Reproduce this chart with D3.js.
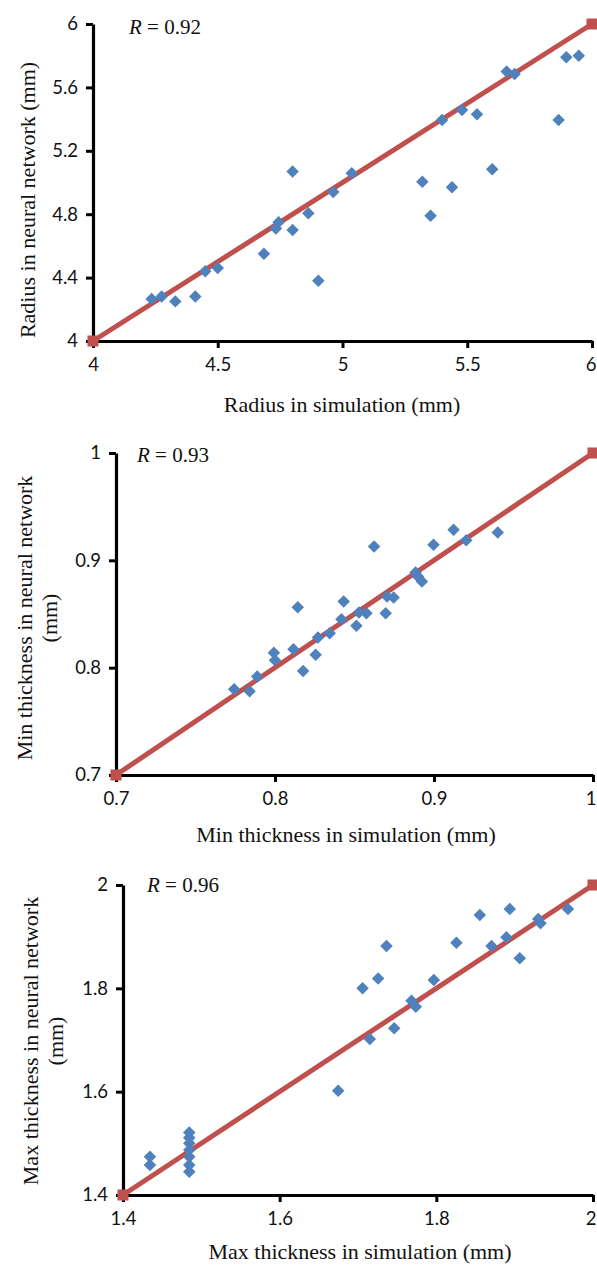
<!DOCTYPE html>
<html><head><meta charset="utf-8">
<script src="https://cdn.jsdelivr.net/npm/d3@7"></script>
<style>
html,body{margin:0;padding:0;background:#fff;}
svg{display:block;}
</style></head>
<body>
<svg id="c" width="597" height="1266"></svg>
<script>
// ---- Data ----
const radiusSim = [4.235,4.275,4.33,4.41,4.45,4.5,4.685,4.733,4.744,4.80,4.80,4.863,4.903,4.963,5.037,5.32,5.353,5.439,5.399,5.479,5.539,5.60,5.658,5.69,5.866,5.897,5.947];
const radiusNN  = [4.265,4.28,4.25,4.28,4.44,4.46,4.55,4.71,4.75,5.07,4.70,4.806,4.38,4.94,5.058,5.005,4.79,4.97,5.394,5.457,5.43,5.083,5.70,5.685,5.394,5.79,5.80];
const radiusXTicks = [4,4.5,5,5.5,6];
const radiusYTicks = [4,4.4,4.8,5.2,5.6,6];
const radiusR = "0.92";

const minSim = [0.7743,0.784,0.7888,0.7993,0.800,0.8116,0.8143,0.8177,0.8256,0.827,0.8344,0.8418,0.8432,0.8512,0.8528,0.8575,0.8623,0.8696,0.8705,0.8746,0.8884,0.8899,0.8924,0.8997,0.9123,0.9203,0.9401];
const minNN  = [0.780,0.778,0.7917,0.814,0.807,0.8172,0.8564,0.797,0.812,0.828,0.832,0.845,0.8617,0.839,0.8514,0.8508,0.913,0.8508,0.8663,0.8654,0.8887,0.885,0.8803,0.9145,0.9285,0.9186,0.926];
const minXTicks = [0.7,0.8,0.9,1];
const minYTicks = [0.7,0.8,0.9,1];
const minR = "0.93";

const maxSim = [1.4344,1.4344,1.4846,1.4846,1.4846,1.4846,1.4846,1.4846,1.4846,1.6747,1.7058,1.7151,1.7257,1.7364,1.7462,1.7683,1.7738,1.7968,1.8257,1.8555,1.8704,1.8895,1.8938,1.9065,1.930,1.933,1.968];
const maxNN  = [1.474,1.458,1.521,1.511,1.500,1.487,1.474,1.458,1.445,1.602,1.800,1.702,1.819,1.882,1.7226,1.776,1.7645,1.816,1.888,1.942,1.882,1.8987,1.9535,1.858,1.934,1.926,1.9535];
const maxXTicks = [1.4,1.6,1.8,2];
const maxYTicks = [1.4,1.6,1.8,2];
const maxR = "0.96";

// ---- Drawing ----
const svg = d3.select("#c");
const BLUE = "#4f81bd", RED = "#c0504d";
const SERIF = "'Liberation Serif','Times New Roman',serif";
const W = 597;

function panel(cfg){
  const g = svg.append("g");
  const x = d3.scaleLinear().domain(cfg.xDom).range(cfg.xr);
  const y = d3.scaleLinear().domain(cfg.yDom).range(cfg.yr);

  const ax = g.append("g").attr("transform",`translate(0,${cfg.yr[0]})`)
    .call(d3.axisBottom(x).tickValues(cfg.xTicks).tickFormat(d=>String(d)).tickSize(7).tickSizeOuter(0).tickPadding(10));
  const ay = g.append("g").attr("transform",`translate(${cfg.xr[0]},0)`)
    .call(d3.axisLeft(y).tickValues(cfg.yTicks).tickFormat(d=>String(d)).tickSize(7).tickSizeOuter(0).tickPadding(8));
  [ax,ay].forEach(a=>{
    a.select(".domain").attr("stroke","#000").attr("stroke-width",3.2);
    a.selectAll(".tick line").attr("stroke","#000").attr("stroke-width",3);
    a.selectAll(".tick text").attr("fill","#111").style("font-family","Lato, 'Open Sans', sans-serif").style("font-size","18.5px");
  });
  // keep the last x tick label inside the page
  ax.selectAll(".tick").each(function(d){
    const txt = d3.select(this).select("text");
    const bb = txt.node().getBBox();
    const right = x(d) + bb.x + bb.width;
    if (right > W - 1) txt.attr("x", -(right - (W - 1)));
  });

  const lo = cfg.xDom[0], hi = cfg.xDom[1];
  g.append("line").attr("x1",x(lo)).attr("y1",y(lo)).attr("x2",x(hi)).attr("y2",y(hi))
    .attr("stroke",RED).attr("stroke-width",5);
  g.selectAll("rect.end").data([lo,hi]).enter().append("rect")
    .attr("x",d=>x(d)-5.5).attr("y",d=>y(d)-5.5).attr("width",11).attr("height",11).attr("fill",RED);

  const diamond = d3.symbol().type(d3.symbolSquare).size(78);
  g.selectAll("path.pt").data(cfg.xs.map((v,i)=>[v,cfg.ys[i]])).enter().append("path")
    .attr("d",diamond).attr("fill",BLUE)
    .attr("transform",d=>`translate(${x(d[0])},${y(d[1])}) rotate(45)`);

  const t = g.append("text").attr("x",cfg.rPos[0]).attr("y",cfg.rPos[1])
    .style("font-family",SERIF).style("font-size","21px").attr("fill","#111");
  t.append("tspan").style("font-style","italic").text("R");
  t.append("tspan").text(" = " + cfg.r);

  g.append("text").attr("x",cfg.xtPos[0]).attr("y",cfg.xtPos[1]).attr("text-anchor","middle")
    .style("font-family",SERIF).style("font-size","22px").attr("fill","#111")
    .text(cfg.xTitle);
  const yt = g.append("text").attr("transform",`translate(${cfg.ytPos[0]},${cfg.ytPos[1]}) rotate(-90)`)
    .attr("text-anchor","middle")
    .style("font-family",SERIF).style("font-size","22px").attr("fill","#111");
  cfg.yTitle.forEach((line,i)=>{
    yt.append("tspan").attr("x",0).attr("dy", i===0?0:"1.15em").text(line);
  });
}

panel({xDom:[4,6], yDom:[4,6], xr:[93,592], yr:[341,24], xTicks:radiusXTicks, yTicks:radiusYTicks,
  xs:radiusSim, ys:radiusNN, r:radiusR, rPos:[129,34],
  xTitle:"Radius in simulation (mm)", xtPos:[342,412],
  yTitle:["Radius in neural network (mm)"], ytPos:[35,200]});

panel({xDom:[0.7,1], yDom:[0.7,1], xr:[116,593], yr:[775,453], xTicks:minXTicks, yTicks:minYTicks,
  xs:minSim, ys:minNN, r:minR, rPos:[137,462],
  xTitle:"Min thickness in simulation (mm)", xtPos:[346,842],
  yTitle:["Min thickness in neural network","(mm)"], ytPos:[32,618]});

panel({xDom:[1.4,2], yDom:[1.4,2], xr:[123,593], yr:[1195,885], xTicks:maxXTicks, yTicks:maxYTicks,
  xs:maxSim, ys:maxNN, r:maxR, rPos:[147,892],
  xTitle:"Max thickness in simulation (mm)", xtPos:[360,1259],
  yTitle:["Max thickness in neural network","(mm)"], ytPos:[38,1041]});
</script>
</body></html>
